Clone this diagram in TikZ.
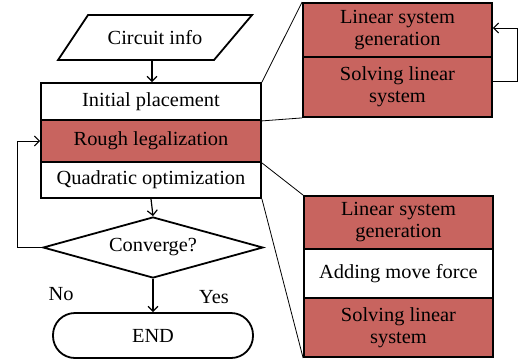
\documentclass[tikz,border=0pt]{standalone}
\usepackage{fontspec}
\setmainfont{Liberation Serif}[FakeStretch=1.02]
\usetikzlibrary{arrows.meta,shapes.geometric}
\definecolor{boxred}{RGB}{200,100,95}
\begin{document}
\begin{tikzpicture}[x=1pt,y=-1pt,
  txt/.style={font=\fontsize{20}{22}\selectfont,align=center,inner sep=0pt},
  row/.style={txt,draw=black,line width=1.8pt,minimum width=220pt},
  sub/.style={txt,draw=black,line width=1.8pt,minimum width=189pt,fill=boxred},
  arr/.style={line width=1.2pt,-{Straight Barb[length=5pt,width=10pt]}},
  thin/.style={line width=0.8pt}]
\useasboundingbox (0,0) rectangle (519,360);
% input parallelogram
\draw[line width=1.8pt] (58,60) -- (88,15) -- (252,15) -- (214,60) -- cycle;
\node[txt] (ci) at (155,38) {Circuit info};
\coordinate (cib) at (152,60);
% main stack
\node[row,minimum height=37pt] (ip) at (151,101.5) {Initial placement};
\node[row,minimum height=42pt,fill=boxred] (rl) at (151,141) {Rough legalization};
\node[row,minimum height=36pt] (qo) at (151,180) {Quadratic optimization};
% decision
\node[txt,diamond,aspect=3.6,draw=black,line width=1.8pt,minimum width=220pt,minimum height=61pt] (cv) at (153,247.5) {Converge?};
% end
\node[txt,draw=black,line width=1.8pt,rounded corners=22pt,minimum width=200pt,minimum height=45pt] (end) at (153,335.5) {END};
\node[txt] (no) at (61,294) {No};
\node[txt] (yes) at (214,297) {Yes};
% arrows
\draw[arr] (cib) -- (cib |- ip.north);
\draw[arr] (qo.south) -- (cv.north);
\draw[arr] (cv.south) -- (end.north);
\draw[arr,line width=1pt] (cv.west) -- ++(-25,0) |- (rl.west);
% top right stack
\node[sub,minimum height=54pt] (tg) at (397.5,30) {Linear system\\generation};
\node[sub,minimum height=60pt] (ts) at (397.5,87) {Solving linear\\system};
% bottom right stack
\node[sub,minimum height=53pt] (bg) at (398.5,222.5) {Linear system\\generation};
\node[sub,minimum height=49pt,fill=white] (bm) at (398.5,273.5) {Adding move force};
\node[sub,minimum height=59pt] (bs) at (398.5,327.5) {Solving linear\\system};
% zoom lines
\draw[thin] (ip.north east) -- (tg.north west);
\draw[thin] (ip.south east) -- (ts.south west);
\draw[thin] (rl.south east) -- (bg.north west);
\draw[thin] (qo.south east) -- (bs.south west);
% top loop
\draw[arr,line width=1pt] ([yshift=6pt]ts.east) -- ++(25,0) |- ([yshift=2pt]tg.east);
\end{tikzpicture}
\end{document}
